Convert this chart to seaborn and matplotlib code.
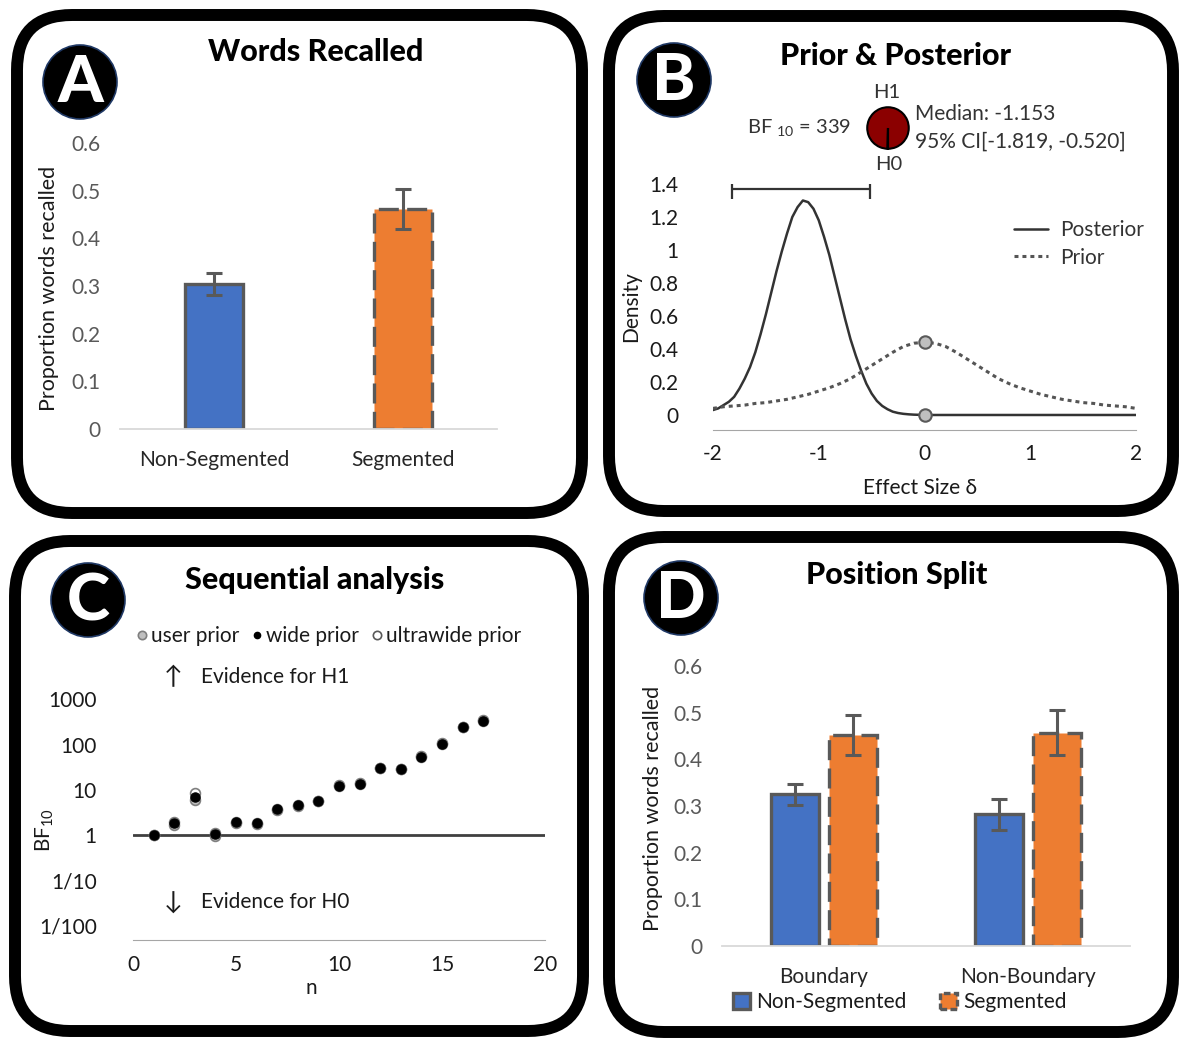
import numpy as np
import pandas as pd
import matplotlib
matplotlib.use("Agg")
import matplotlib.pyplot as plt
from matplotlib.patches import FancyBboxPatch, Circle, Patch
from matplotlib.lines import Line2D
from matplotlib.ticker import FixedLocator, NullLocator
import seaborn as sns

sns.set_style("white")
plt.rcParams['font.family'] = ['Lato', 'DejaVu Sans']
plt.rcParams['mathtext.fontset'] = 'custom'
plt.rcParams['mathtext.rm'] = 'Lato'

# ---- data ----
conditions = ["Non-Segmented", "Segmented"]
recall_mean = [0.304, 0.462]
recall_err = [0.023, 0.042]

# posterior density (denser grid around the peak)
post_delta = [-2.0, -1.95, -1.9, -1.85, -1.8, -1.75, -1.7, -1.65, -1.6, -1.55,
              -1.5, -1.45, -1.4, -1.35, -1.3, -1.25, -1.2, -1.15, -1.1, -1.05,
              -1.0, -0.95, -0.9, -0.85, -0.8, -0.75, -0.7, -0.65, -0.6, -0.55,
              -0.5, -0.45, -0.4, -0.35, -0.3, -0.25, -0.2, -0.15, -0.1, -0.05,
              0.0, 2.0]
posterior = [0.03, 0.04, 0.06, 0.08, 0.11, 0.16, 0.22, 0.29, 0.38, 0.49,
             0.61, 0.74, 0.87, 0.99, 1.10, 1.20, 1.26, 1.30, 1.29, 1.25,
             1.18, 1.08, 0.97, 0.84, 0.71, 0.58, 0.46, 0.36, 0.27, 0.19,
             0.13, 0.085, 0.055, 0.035, 0.02, 0.012, 0.007, 0.004, 0.002, 0.001,
             0.0, 0.0]
prior_delta = [-2.0, -1.9, -1.8, -1.7, -1.6, -1.5, -1.4, -1.3, -1.2, -1.1,
               -1.0, -0.9, -0.8, -0.7, -0.6, -0.5, -0.4, -0.3, -0.2, -0.1,
               0.0, 0.1, 0.2, 0.3, 0.4, 0.5, 0.6, 0.7, 0.8, 0.9,
               1.0, 1.1, 1.2, 1.3, 1.4, 1.5, 1.6, 1.7, 1.8, 1.9, 2.0]
prior = [0.04, 0.05, 0.055, 0.06, 0.07, 0.075, 0.085, 0.095, 0.11, 0.125,
         0.145, 0.165, 0.19, 0.22, 0.26, 0.30, 0.34, 0.38, 0.415, 0.435,
         0.44, 0.435, 0.415, 0.38, 0.34, 0.30, 0.26, 0.22, 0.19, 0.165,
         0.145, 0.125, 0.11, 0.095, 0.085, 0.075, 0.07, 0.06, 0.055, 0.05, 0.04]
bf10 = 339
bf_split = [339, 1]
post_median = -1.153
post_ci = [-1.819, -0.520]

n_obs = [1, 2, 3, 4, 5, 6, 7, 8, 9, 10, 11, 12, 13, 14, 15, 16, 17]
bf_wide = [1.0, 1.8, 7.0, 1.05, 1.9, 1.8, 3.7, 4.5, 5.7, 12.3, 13.6, 30.7,
           29.0, 54.0, 105.0, 245.0, 339.0]
bf_user = [1.0, 1.7, 6.0, 0.95, 1.85, 1.75, 3.6, 4.4, 5.6, 12.0, 13.3, 30.0,
           28.5, 53.0, 103.0, 240.0, 335.0]
bf_ultrawide = [1.0, 1.9, 8.5, 1.1, 1.95, 1.85, 3.8, 4.6, 5.8, 12.5, 13.9, 31.0,
                29.5, 55.0, 107.0, 250.0, 343.0]
bf_ticks = [0.01, 0.1, 1, 10, 100, 1000]
bf_ticklabels = ["1/100", "1/10", "1", "10", "100", "1000"]

positions = ["Boundary", "Non-Boundary"]
split_nonseg = [0.325, 0.282]
split_nonseg_err = [0.023, 0.033]
split_seg = [0.452, 0.457]
split_seg_err = [0.042, 0.048]

# ---- style ----
BLUE = "#4472C4"
ORANGE = "#ED7D31"
EDGE = "#595959"
DASH = (0, (6, 2.5))
TXT = "#1a1a1a"

W, H = 1180, 1041
fig = plt.figure(figsize=(W / 100, H / 100), dpi=100)


def px_axes(l, t, r, b):
    ax = fig.add_axes([l / W, 1 - b / H, (r - l) / W, (b - t) / H])
    ax.set_facecolor("none")
    return ax


def ftext(x, y, s, **kw):
    kw.setdefault("ha", "center")
    kw.setdefault("va", "center")
    return fig.text(x / W, 1 - y / H, s, **kw)


def frame(l, t, r, b):
    fig.add_artist(FancyBboxPatch((l / 100, (H - b) / 100), (r - l) / 100, (b - t) / 100,
                                  boxstyle="round,pad=0,rounding_size=0.55",
                                  transform=fig.dpi_scale_trans,
                                  fc="none", ec="black", lw=8.6))


def badge(cx, cy, letter):
    fig.add_artist(Circle((cx / 100, (H - cy) / 100), 0.37, transform=fig.dpi_scale_trans,
                          fc="black", ec="#1f3864", lw=1.2))
    ftext(cx, cy + 2, letter, color="white", fontsize=47, fontweight=900)


def title(x, y, s):
    ftext(x, y, s, fontsize=22, fontweight=900, color="black")


def bar_axis(ax, lab_x, lab_y):
    ax.set_xlim(-0.5, 1.5)
    ax.set_ylim(0, 0.6)
    ax.set_yticks([0, 0.1, 0.2, 0.3, 0.4, 0.5, 0.6],
                  ["0", "0.1", "0.2", "0.3", "0.4", "0.5", "0.6"])
    for s in ["top", "right", "left"]:
        ax.spines[s].set_visible(False)
    ax.spines["bottom"].set_color("#D9D9D9")
    ax.spines["bottom"].set_linewidth(1.3)
    ax.xaxis.set_minor_locator(FixedLocator([-0.5, 0.5, 1.5]))
    ax.tick_params(axis="x", which="minor", length=6, width=1.3, color="#D9D9D9")
    ax.tick_params(axis="x", which="major", length=0, pad=15, labelsize=15,
                   labelcolor="#262626")
    ax.tick_params(axis="y", length=0, pad=14, labelsize=15, labelcolor="#595959")
    ax.set_xlabel("")
    ax.set_ylabel("Proportion words recalled", fontsize=15.5, color=TXT)
    ax.yaxis.set_label_coords(lab_x, lab_y)


def add_errors(ax, errs_per_container, dashed_idx):
    for i, (cont, errs) in enumerate(zip(ax.containers, errs_per_container)):
        for bar, err in zip(cont, errs):
            if i in dashed_idx:
                bar.set_linestyle(DASH)
            cx = bar.get_x() + bar.get_width() / 2
            ax.errorbar(cx, bar.get_height(), yerr=err, color=EDGE, lw=2.2,
                        capsize=6, capthick=2.2, zorder=5)


# ---- panel frames ----
frame(17, 15, 582, 513)
frame(609, 16, 1173, 511)
frame(15, 541, 583, 1031)
frame(609, 537, 1173, 1032)

# ---- A: words recalled ----
axA = px_axes(120, 143, 497, 429)
dfA = pd.DataFrame({"condition": conditions, "recall": recall_mean})
sns.barplot(data=dfA, x="condition", y="recall", hue="condition",
            palette=[BLUE, ORANGE], saturation=1, width=0.31, edgecolor=EDGE,
            linewidth=2.4, legend=False, ax=axA)
add_errors(axA, [[recall_err[0]], [recall_err[1]]], dashed_idx=[1])
bar_axis(axA, -0.163, 0.49)
title(316, 52, "Words Recalled")

# ---- B: prior & posterior ----
axB = px_axes(713, 184, 1136, 430)
dfPost = pd.DataFrame({"delta": post_delta, "density": posterior})
dfPrior = pd.DataFrame({"delta": prior_delta, "density": prior})
sns.lineplot(data=dfPost, x="delta", y="density", color="#333333", lw=1.8,
             ax=axB, label="Posterior")
sns.lineplot(data=dfPrior, x="delta", y="density", color="#555555", lw=2.2,
             linestyle=(0, (1.3, 1.3)), ax=axB, label="Prior")
sns.scatterplot(x=[0.0, 0.0], y=[prior[prior_delta.index(0.0)], posterior[post_delta.index(0.0)]],
                s=80, color="#BFBFBF", edgecolor="#595959", linewidth=1.5,
                zorder=5, legend=False, ax=axB)
axB.errorbar(np.mean(post_ci), 1.37, xerr=(post_ci[1] - post_ci[0]) / 2,
             color="#333333", lw=1.6, capsize=7, capthick=1.6)
axB.set_xlim(-2, 2)
axB.set_ylim(-0.091, 1.4)
axB.set_xticks([-2, -1, 0, 1, 2], ["-2", "-1", "0", "1", "2"])
axB.set_yticks([0, 0.2, 0.4, 0.6, 0.8, 1.0, 1.2, 1.4],
               ["0", "0.2", "0.4", "0.6", "0.8", "1", "1.2", "1.4"])
for s in ["top", "right", "left"]:
    axB.spines[s].set_visible(False)
axB.spines["bottom"].set_color("#A6A6A6")
axB.tick_params(axis="x", length=6, width=1.2, color="#A6A6A6", pad=4,
                labelsize=15, labelcolor=TXT)
axB.tick_params(axis="y", length=0, pad=25, labelsize=15, labelcolor=TXT)
axB.set_xlabel("Effect Size δ", fontsize=15, color=TXT)
axB.xaxis.set_label_coords(0.49, -0.195)
axB.set_ylabel("Density", fontsize=15, color=TXT)
axB.yaxis.set_label_coords(-0.170, 0.5)
axB.legend(loc="upper left", bbox_to_anchor=(1006 / W, 1 - 212 / H),
           bbox_transform=fig.transFigure, frameon=False, fontsize=15,
           handlelength=1.6, handletextpad=0.6, labelspacing=0.35,
           labelcolor="#333333", borderaxespad=0)

axP = px_axes(866, 106, 910, 150)
axP.pie(bf_split, colors=["#8B0000", "#8B0000"], startangle=270,
        wedgeprops=dict(edgecolor="black", linewidth=1.5))
axP.set_aspect("equal")
axP.set_xlim(-1.06, 1.06)
axP.set_ylim(-1.06, 1.06)
ftext(887, 93, "H1", fontsize=14.5, color="#333333")
ftext(889, 165, "H0", fontsize=14.5, color="#333333")
ftext(851, 128, r"BF $_{\mathregular{10}}$ = " + f"{bf10}", ha="right",
      fontsize=14.5, color="#333333")
ftext(915, 114, f"Median: {post_median:.3f}", ha="left", fontsize=15,
      color="#333333")
ftext(915, 142, f"95% CI[{post_ci[0]:.3f}, {post_ci[1]:.3f}]", ha="left",
      fontsize=15, color="#333333")
title(895, 56, "Prior & Posterior")

# ---- C: sequential analysis ----
axC = px_axes(133, 655, 545, 940)
axC.set_yscale("log")
axC.axhline(1, color="#404040", lw=2, zorder=0)
sns.scatterplot(x=n_obs, y=bf_ultrawide, s=50, color="white", edgecolor="#7F7F7F",
                linewidth=1.2, legend=False, ax=axC)
sns.scatterplot(x=n_obs, y=bf_user, s=50, color="#BFBFBF", edgecolor="#7F7F7F",
                linewidth=1.2, legend=False, ax=axC)
sns.scatterplot(x=n_obs, y=bf_wide, s=45, color="black", edgecolor="black",
                linewidth=0.8, legend=False, ax=axC)
axC.set_xlim(0, 20)
axC.set_ylim(10 ** -2.32, 10 ** 3.98)
axC.set_xticks([0, 5, 10, 15, 20], ["0", "5", "10", "15", "20"])
axC.set_yticks(bf_ticks, bf_ticklabels)
axC.yaxis.set_minor_locator(NullLocator())
for s in ["top", "right", "left"]:
    axC.spines[s].set_visible(False)
axC.spines["bottom"].set_color("#A6A6A6")
axC.tick_params(axis="x", length=7, width=1.2, color="#A6A6A6", pad=4,
                labelsize=15, labelcolor=TXT)
axC.tick_params(axis="y", length=0, pad=26, labelsize=15, labelcolor=TXT)
axC.set_xlabel("n", fontsize=15, color=TXT)
axC.xaxis.set_label_coords(0.432, -0.135)
axC.set_ylabel(r"BF$_{\mathregular{10}}$", fontsize=15, color=TXT)
axC.yaxis.set_label_coords(-0.187, 0.386)
handlesC = [
    Line2D([], [], marker="o", ls="", mfc="#BFBFBF", mec="#7F7F7F", ms=6, mew=1.2),
    Line2D([], [], marker="o", ls="", mfc="black", mec="black", ms=4.5),
    Line2D([], [], marker="o", ls="", mfc="white", mec="#595959", ms=6, mew=1.2),
]
fig.legend(handles=handlesC, labels=["user prior", "wide prior", "ultrawide prior"],
           loc="center left", bbox_to_anchor=(126 / W, 1 - 636 / H), ncol=3,
           frameon=False, fontsize=15, handlelength=0.7, handletextpad=0.1,
           columnspacing=0.5, labelcolor=TXT, borderaxespad=0)
ftext(173, 677, "↑", fontsize=18, color=TXT)
ftext(201, 677, "Evidence for H1", ha="left", fontsize=15, color=TXT)
ftext(173, 902, "↓", fontsize=18, color=TXT)
ftext(201, 902, "Evidence for H0", ha="left", fontsize=15, color=TXT)
title(315, 580, "Sequential analysis")

# ---- D: position split ----
axD = px_axes(722, 666, 1130, 946)
dfD = pd.DataFrame({
    "position": positions * 2,
    "condition": [conditions[0]] * 2 + [conditions[1]] * 2,
    "recall": split_nonseg + split_seg,
})
sns.barplot(data=dfD, x="position", y="recall", hue="condition",
            palette=[BLUE, ORANGE], saturation=1, width=0.56, gap=0.16,
            edgecolor=EDGE, linewidth=2.4, legend=False, ax=axD)
add_errors(axD, [split_nonseg_err, split_seg_err], dashed_idx=[1])
bar_axis(axD, -0.145, 0.49)
handlesD = [Patch(fc=BLUE, ec=EDGE, lw=2.4),
            Patch(fc=ORANGE, ec=EDGE, lw=2.4, ls=(0, (2, 1)))]
fig.legend(handles=handlesD, labels=conditions, loc="center",
           bbox_to_anchor=(900 / W, 1 - 1002 / H), ncol=2, frameon=False,
           fontsize=15, handlelength=0.8, handleheight=0.8, handletextpad=0.3,
           columnspacing=1.6, labelcolor=TXT, borderaxespad=0)
title(897, 575, "Position Split")

# ---- letter badges ----
badge(80, 82, "A")
badge(674, 80, "B")
badge(88, 600, "C")
badge(681, 598, "D")

fig.savefig("out.png", dpi=100)
